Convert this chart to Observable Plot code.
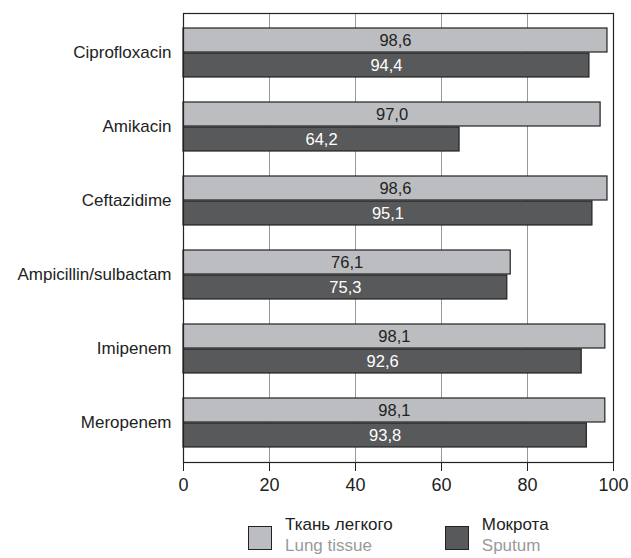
<!DOCTYPE html>
<html>
<head>
<meta charset="utf-8">
<script src="https://cdn.jsdelivr.net/npm/d3@7"></script>
<script src="https://cdn.jsdelivr.net/npm/@observablehq/plot@0.6"></script>
<style>
  body { margin: 0; background: #fff; font-family: "Liberation Sans", Arial, sans-serif; }
  #chart { width: 631px; }
  .legend { display: flex; margin-left: 248px; margin-top: 14px; }
  .item { display: flex; align-items: flex-start; }
  .sw { width: 24px; height: 24px; border: 1.5px solid #222; box-sizing: border-box; margin-top: 12px; margin-right: 13px; }
  .lbl { font-size: 17px; line-height: 21px; color: #222; }
  .lbl .en { color: #9a9a9a; }
</style>
</head>
<body>
<div id="chart"></div>
<script>
const categories = ["Ciprofloxacin", "Amikacin", "Ceftazidime", "Ampicillin/sulbactam", "Imipenem", "Meropenem"];
const lungTissue = [98.6, 97.0, 98.6, 76.1, 98.1, 98.1];
const sputum = [94.4, 64.2, 95.1, 75.3, 92.6, 93.8];
const xTicks = [0, 20, 40, 60, 80, 100];
const seriesNames = [["Ткань легкого", "Lung tissue"], ["Мокрота", "Sputum"]];
const colors = ["#bcbdc0", "#58595b"];

const lung = categories.map((c, i) => ({cat: c, v: lungTissue[i]}));
const sp = categories.map((c, i) => ({cat: c, v: sputum[i]}));
const fmt = v => d3.format(".1f")(v).replace(".", ",");

const half = 25;
const plot = Plot.plot({
  width: 631,
  height: 500,
  marginLeft: 183,
  marginRight: 18,
  marginTop: 13,
  marginBottom: 38,
  style: {fontFamily: "'Liberation Sans', Arial, sans-serif", fontSize: "16px", color: "#222"},
  x: {domain: [0, 100], ticks: xTicks, label: null},
  y: {domain: categories, paddingInner: 1/3, paddingOuter: 1/6, label: null},
  marks: [
    Plot.gridX(xTicks, {stroke: "#999", strokeOpacity: 1, strokeWidth: 1}),
    Plot.barX(lung, {x: "v", y: "cat", fill: colors[0], stroke: "#222", strokeWidth: 1.2, insetBottom: half}),
    Plot.barX(sp, {x: "v", y: "cat", fill: colors[1], stroke: "#222", strokeWidth: 1.2, insetTop: half}),
    Plot.text(lung, {x: d => d.v / 2, y: "cat", dy: -12.5, text: d => fmt(d.v), fill: "#222", fontSize: 16.5}),
    Plot.text(sp, {x: d => d.v / 2, y: "cat", dy: 12.5, text: d => fmt(d.v), fill: "#fff", fontSize: 16.5}),
    Plot.frame({stroke: "#222", strokeWidth: 1.2}),
    Plot.axisX({ticks: xTicks, tickSize: 9, tickPadding: 7, fontSize: 18, stroke: "#222"}),
    Plot.axisY({tickSize: 0, tickPadding: 12, fontSize: 17})
  ]
});
document.getElementById("chart").appendChild(plot);

const leg = document.createElement("div");
leg.className = "legend";
seriesNames.forEach((n, i) => {
  const it = document.createElement("div");
  it.className = "item";
  it.style.marginRight = i === 0 ? "52px" : "0";
  it.innerHTML = `<div class="sw" style="background:${colors[i]}"></div><div class="lbl"><div>${n[0]}</div><div class="en">${n[1]}</div></div>`;
  leg.appendChild(it);
});
document.getElementById("chart").appendChild(leg);
</script>
</body>
</html>
